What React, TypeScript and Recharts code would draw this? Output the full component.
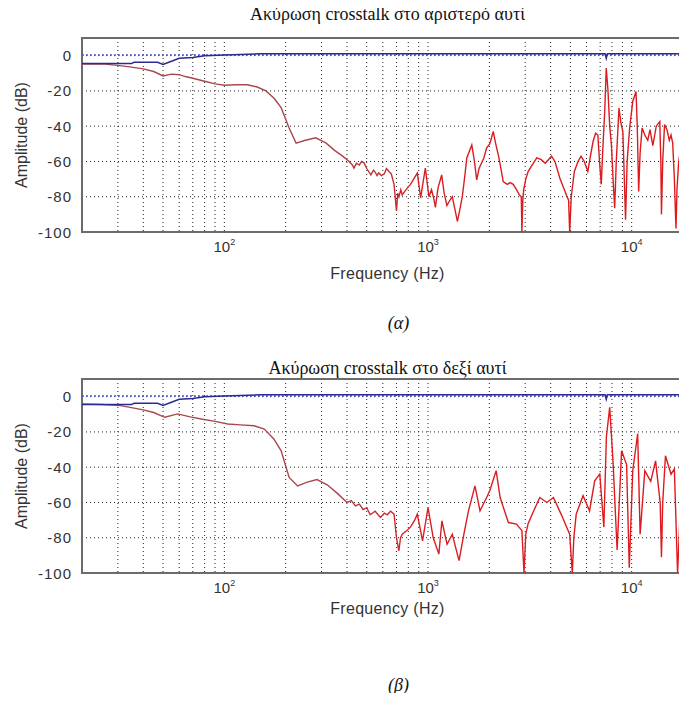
import { LineChart, Line, XAxis, YAxis, CartesianGrid, ReferenceArea, ReferenceLine } from "recharts";

// x axis: log frequency, minor grid at every 1..9 x decade
const freqTicks = [
  20, 30, 40, 50, 60, 70, 80, 90, 100, 200, 300, 400, 500, 600, 700, 800, 900,
  1000, 2000, 3000, 4000, 5000, 6000, 7000, 8000, 9000, 10000, 20000,
];
const ampTicks = [-100, -80, -60, -40, -20, 0];

const titleLeft = "Ακύρωση crosstalk στο αριστερό αυτί";
const titleRight = "Ακύρωση crosstalk στο δεξί αυτί";

// blue (same in both plots)
const blueFreq = [20, 35, 36, 47, 50, 55, 60, 70, 80, 100, 150, 1000, 7400, 7500, 7600, 20000];
const blueAmp = [-4.5, -4.5, -3.8, -3.8, -5, -3.2, -1.5, -1, 0, 0.4, 1, 1, 1, -1.5, 1, 1];

// (α) left ear
const leftFreq = [
  20, 25, 30, 35, 40, 45, 50, 55, 60, 65, 70, 80, 90, 100, 115, 130, 145, 160, 175, 190,
  208, 225, 250, 281, 315, 350, 381, 410, 425, 433, 445, 460, 472, 485, 500, 524, 540, 550,
  562, 573, 590, 610, 625, 643, 660, 681, 700, 710, 720, 735, 747, 780, 820, 860, 886, 920,
  945, 970, 1010, 1040, 1067, 1087, 1120, 1167, 1200, 1238, 1280, 1316, 1360, 1394, 1440,
  1473, 1520, 1550, 1640, 1690, 1734, 1780, 1830, 1880, 1940, 2010, 2090, 2150, 2220, 2280,
  2340, 2450, 2530, 2620, 2720, 2810, 2870, 2890, 2920, 2950, 3020, 3100, 3250, 3420, 3600,
  3760, 3900, 4040, 4200, 4440, 4600, 4780, 4900, 4960, 5050, 5230, 5450, 5640, 5850, 6090,
  6250, 6460, 6650, 6820, 6950, 7090, 7200, 7370, 7500, 7650, 7800, 7950, 8100, 8250, 8400,
  8660, 8850, 9050, 9200, 9330, 9500, 9770, 10120, 10500, 10650, 10820, 11000, 11250, 11600,
  11990, 12300, 12700, 13200, 13740, 13900, 14000, 14200, 14500, 14900, 15300, 15600, 15900,
  16200, 16500, 16700, 17000, 17600, 17800, 18060, 18400, 18800, 19200, 19600, 20000,
];
const leftRed = [
  -4.7, -4.7, -5.5, -6.5, -7.5, -9, -11.5, -10.5, -10.8, -12, -12.8, -14.5, -16, -16.8, -16.5,
  -16.5, -17.8, -20, -24, -29.5, -41, -49.6, -48, -46.6, -49.5, -54, -57, -60, -62, -63.8,
  -61, -62, -60, -60.8, -64, -67.6, -65, -66, -68, -66.5, -68, -67, -64, -65.7, -67, -73,
  -88, -78, -80, -76, -79, -76, -73, -69, -66.6, -80.6, -72, -63.8, -80, -76, -81, -86, -75,
  -67.6, -78, -85, -82, -80, -88, -94, -86, -80, -67, -58, -50.6, -60, -70.5, -64, -61, -58,
  -52.3, -50, -43, -50, -57, -64, -71.4, -73, -72, -73, -76, -79, -80, -100, -82, -76, -70,
  -65.7, -62, -58, -59, -61, -59, -57, -60, -69.5, -74, -79, -82, -100, -80, -65.7, -60, -57,
  -60, -65.7, -58, -48.7, -44, -45, -60, -73, -55, -32, -7, -20, -40, -50.6, -70, -86.5, -60,
  -29.7, -38, -43, -70, -93, -60, -41, -26, -20.3, -40, -77, -55, -41, -45, -48, -42, -51,
  -40, -37.3, -60, -90, -60, -39, -42, -48, -45, -49.6, -70, -98, -75, -60.8, -47.6, -70,
  -100, -60, -45, -55, -100, -60,
];

// (β) right ear
const rightFreq = [
  20, 25, 31, 40, 45, 51, 59, 68, 77, 90, 104, 120, 140, 157, 175, 190, 208, 229, 255, 285,
  320, 360, 400, 420, 440, 460, 480, 500, 520, 550, 584, 610, 630, 655, 681, 700, 719, 733,
  747, 785, 820, 860, 886, 940, 1000, 1060, 1130, 1170, 1240, 1316, 1370, 1420, 1500, 1580,
  1700, 1800, 1940, 2010, 2160, 2260, 2480, 2720, 2890, 2960, 3020, 3100, 3300, 3540, 3830,
  4130, 4500, 4960, 5110, 5200, 5340, 5770, 6210, 6580, 6970, 7300, 7510, 7800, 8100, 8480,
  8920, 9440, 9730, 10120, 10700, 11000, 11600, 12400, 13100, 13800, 14000, 14200, 14650,
  15600, 16200, 16800, 17400, 18000, 18500, 19000, 19500, 20000,
];
const rightRed = [
  -4.2, -4.5, -5.1, -7.5, -9, -11.7, -9.8, -11.5, -12.7, -14, -15.5, -16, -16.5, -18.4, -24,
  -30.7, -45.8, -50.6, -48.5, -47, -50, -55, -60, -59, -62, -61, -64, -63, -67, -65, -68.5,
  -66, -67, -65, -66.6, -80, -87.5, -80, -78, -76, -74, -70, -66.6, -81.8, -62.9, -79.9,
  -89.3, -70.4, -83.7, -78, -86, -93, -78, -64.8, -50.6, -64.8, -57.2, -53.4, -42, -57.2,
  -71.4, -72.3, -76, -100, -78, -72, -64.8, -57.2, -60, -57.2, -66.6, -78, -100, -80, -66.6,
  -56.2, -64.8, -47.7, -43.9, -74, -23, -6, -37, -87, -30.7, -38.5, -97, -42, -21, -78, -42,
  -48, -36.4, -60, -91, -60, -33.5, -44, -41, -100, -59, -48, -70, -42, -60, -45,
];

const toRows = (f: number[], a: number[]) => f.map((v, i) => ({ f: v, a: a[i] }));

const sans = "'Liberation Sans', Arial, sans-serif";
const serif = "'Liberation Serif', 'Times New Roman', serif";

const FreqTick = (props: any) => {
  const { x, y, payload } = props;
  const lg = Math.log10(payload.value);
  const e = Math.round(lg);
  if (Math.abs(lg - e) > 1e-6) return <g />;
  return (
    <text x={x} y={y + 18} textAnchor="middle" fontFamily={sans} fontSize={15} fill="#333">
      10
      <tspan dy={-7} fontSize={9}>
        {e}
      </tspan>
    </text>
  );
};

const AmpTick = (props: any) => {
  const { x, y, payload } = props;
  return (
    <text x={x - 8} y={y} textAnchor="end" dominantBaseline="central" fontFamily={sans}
      fontSize={15} letterSpacing={1} fill="#333">
      {payload.value}
    </text>
  );
};

const Panel = ({ id, top, title, titleTop, freq, red, freqLabelTop, caption, captionTop }: any) => (
  <>
    <div style={{ position: "absolute", left: 0, top }}>
      <LineChart width={700} height={262} margin={{ top: 38, right: 7, left: 22, bottom: 0 }}>
        <defs>
          {/* brownish at low frequencies, bright red higher up */}
          <linearGradient id={id} gradientUnits="userSpaceOnUse" x1="82" y1="0" x2="693" y2="0">
            <stop offset="0" stopColor="#a8484e" />
            <stop offset="0.4" stopColor="#a8484e" />
            <stop offset="0.55" stopColor="#d81e22" />
            <stop offset="1" stopColor="#e0181c" />
          </linearGradient>
        </defs>
        <CartesianGrid stroke="#222" strokeDasharray="1 3" />
        <XAxis dataKey="f" type="number" scale="log" domain={[20, 20000]} allowDataOverflow
          ticks={freqTicks} interval={0} tick={<FreqTick />} tickLine={false} axisLine={false}
          tickSize={0} height={30} />
        <YAxis type="number" domain={[-100, 10]} ticks={ampTicks} interval={0} tick={<AmpTick />}
          tickLine={false} axisLine={false} tickSize={0} width={60} allowDataOverflow />
        <ReferenceArea x1={20} x2={20000} y1={-100} y2={10} fill="none" stroke="#6b6b6b"
          strokeWidth={2} ifOverflow="visible" />
        <ReferenceLine y={0.3} stroke="#4a58d8" strokeDasharray="2 2" strokeWidth={1.5} />
        <Line data={toRows(freq, red)} dataKey="a" stroke={`url(#${id})`} strokeWidth={1.4}
          dot={false} isAnimationActive={false} type="linear" />
        <Line data={toRows(blueFreq, blueAmp)} dataKey="a" stroke="#2a2a92" strokeWidth={1.5}
          dot={false} isAnimationActive={false} type="linear" />
      </LineChart>
    </div>
    <div style={{ position: "absolute", zIndex: 2, left: 82, width: 611, top: titleTop,
      textAlign: "center", fontFamily: "'Liberation Serif', serif", fontSize: 18, lineHeight: "20px",
      color: "#111" }}>
      {title}
    </div>
    <div style={{ position: "absolute", left: 22, top: top + 38 + 97, width: 0, height: 0 }}>
      <div style={{ position: "absolute", transform: "translate(-50%,-50%) rotate(-90deg)",
        whiteSpace: "nowrap", fontFamily: sans, fontSize: 16, color: "#333" }}>
        Amplitude (dB)
      </div>
    </div>
    <div style={{ position: "absolute", left: 82, width: 611, top: freqLabelTop, textAlign: "center",
      fontFamily: sans, fontSize: 16, letterSpacing: 0.3, color: "#333" }}>
      Frequency (Hz)
    </div>
    <div style={{ position: "absolute", left: 82, width: 633, top: captionTop, textAlign: "center",
      fontFamily: serif, fontStyle: "italic", fontSize: 18, color: "#111" }}>
      {caption}
    </div>
  </>
);

export default function App() {
  return (
    <div style={{ position: "relative", width: 687, height: 701, margin: -8, overflow: "hidden",
      background: "#fff" }}>
      <Panel id="redA" top={0} titleTop={4} title={titleLeft}
        freq={leftFreq} red={leftRed} freqLabelTop={265} caption="(α)" captionTop={313} />
      <Panel id="redB" top={341} titleTop={358} title={titleRight}
        freq={rightFreq} red={rightRed} freqLabelTop={600} caption="(β)" captionTop={675} />
    </div>
  );
}
